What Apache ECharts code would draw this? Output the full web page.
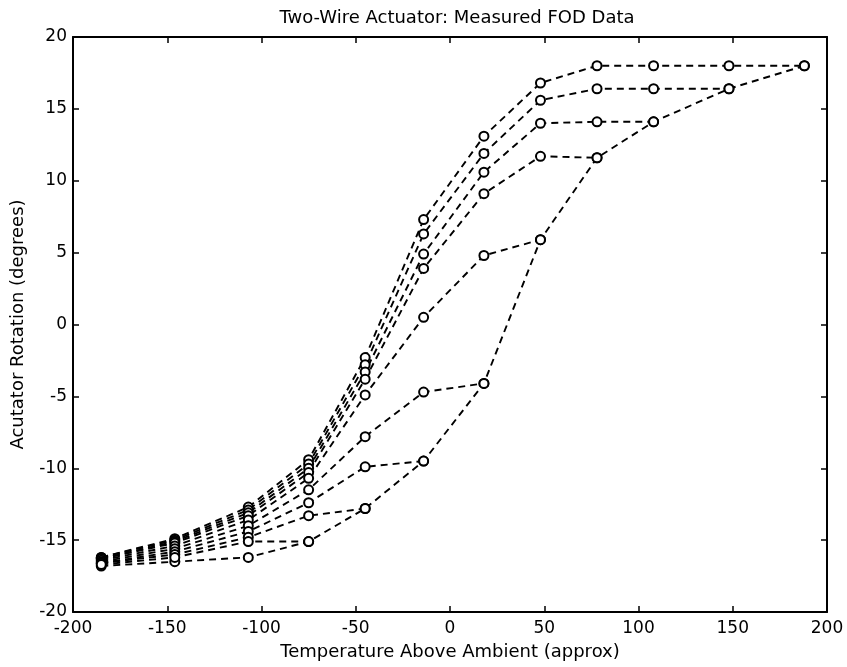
<!DOCTYPE html>
<html>
<head>
<meta charset="utf-8">
<script src="https://cdn.jsdelivr.net/npm/echarts@6/dist/echarts.min.js"></script>
<style>
  html, body { margin: 0; padding: 0; background: #fff; }
  #chart { width: 847px; height: 667px; }
</style>
</head>
<body>
<div id="chart"></div>
<script>
// Temperaturas medidas (eje x)
const temps = [-185, -146, -107, -75, -45, -14, 18, 48, 78, 108, 148, 188];

// Rama de calentamiento (puntos de giro)
const ascending = [-16.8, -16.5, -16.2, -15.1, -12.8, -9.5, -4.1, 5.9, 11.6, 14.1, 16.4, 18.0];

// Curvas FOD, desde -185 hasta el punto de giro
const fod188 = [-16.2, -14.9, -12.7, -9.4, -2.3, 7.3, 13.1, 16.8, 18.0, 18.0, 18.0, 18.0];
const fod148 = [-16.2, -15.0, -12.9, -9.7, -2.8, 6.3, 11.9, 15.6, 16.4, 16.4, 16.4];
const fod108 = [-16.3, -15.1, -13.1, -10.0, -3.3, 4.9, 10.6, 14.0, 14.1, 14.1];
const fod78 = [-16.3, -15.2, -13.3, -10.3, -3.8, 3.9, 9.1, 11.7, 11.6];
const fod48 = [-16.4, -15.4, -13.6, -10.7, -4.9, 0.5, 4.8, 5.9];
const fod18 = [-16.5, -15.6, -14.0, -11.5, -7.8, -4.7, -4.1];
const fodM14 = [-16.6, -15.8, -14.4, -12.4, -9.9, -9.5];
const fodM45 = [-16.6, -16.0, -14.8, -13.3, -12.8];
const fodM75 = [-16.7, -16.2, -15.1, -15.1];

const xTicks = [-200, -150, -100, -50, 0, 50, 100, 150, 200];
const yTicks = [-20, -15, -10, -5, 0, 5, 10, 15, 20];

const curves = [ascending, fod188, fod148, fod108, fod78, fod48, fod18, fodM14, fodM45, fodM75];

const series = curves.map((vals) => ({
  type: "line",
  data: vals.map((v, i) => [temps[i], v]),
  symbol: "emptyCircle",
  symbolSize: 9,
  showSymbol: true,
  itemStyle: { color: "#000", borderColor: "#000", borderWidth: 1.7 },
  lineStyle: { color: "#000", width: 1.9, type: [7, 5] },
  animation: false,
  silent: true,
}));

const font = "'DejaVu Sans', sans-serif";

const axisCommon = {
  type: "value",
  axisLine: { show: true, onZero: false, lineStyle: { color: "#000", width: 2 } },
  axisTick: { show: true, inside: true, length: 6, lineStyle: { color: "#000", width: 1.5 } },
  splitLine: { show: false },
};

const chart = echarts.init(document.getElementById("chart"));
chart.setOption({
  backgroundColor: "#fff",
  title: {
    text: "Two-Wire Actuator: Measured FOD Data",
    left: 452,
    textAlign: "center",
    top: 4,
    textStyle: { fontFamily: font, fontSize: 18, fontWeight: "normal", color: "#000" },
  },
  grid: { left: 73, right: 20, top: 37, bottom: 55 },
  xAxis: [
    Object.assign({}, axisCommon, {
      min: -200, max: 200, interval: 50, position: "bottom",
      name: "Temperature Above Ambient (approx)",
      nameLocation: "middle", nameGap: 31,
      nameTextStyle: { fontFamily: font, fontSize: 18, color: "#000" },
      axisLabel: { fontFamily: font, fontSize: 17, color: "#000", margin: 8,
        formatter: (v) => (xTicks.includes(v) ? String(v) : "") },
    }),
    Object.assign({}, axisCommon, {
      min: -200, max: 200, interval: 50, position: "top",
      axisLabel: { show: false },
    }),
  ],
  yAxis: [
    Object.assign({}, axisCommon, {
      min: -20, max: 20, interval: 5, position: "left",
      name: "Acutator Rotation (degrees)",
      nameLocation: "middle", nameGap: 46, nameRotate: 90,
      nameTextStyle: { fontFamily: font, fontSize: 18, color: "#000" },
      axisLabel: { fontFamily: font, fontSize: 17, color: "#000", margin: 6,
        formatter: (v) => (yTicks.includes(v) ? String(v) : "") },
    }),
    Object.assign({}, axisCommon, {
      min: -20, max: 20, interval: 5, position: "right",
      axisLabel: { show: false },
    }),
  ],
  series: series,
});
</script>
</body>
</html>
